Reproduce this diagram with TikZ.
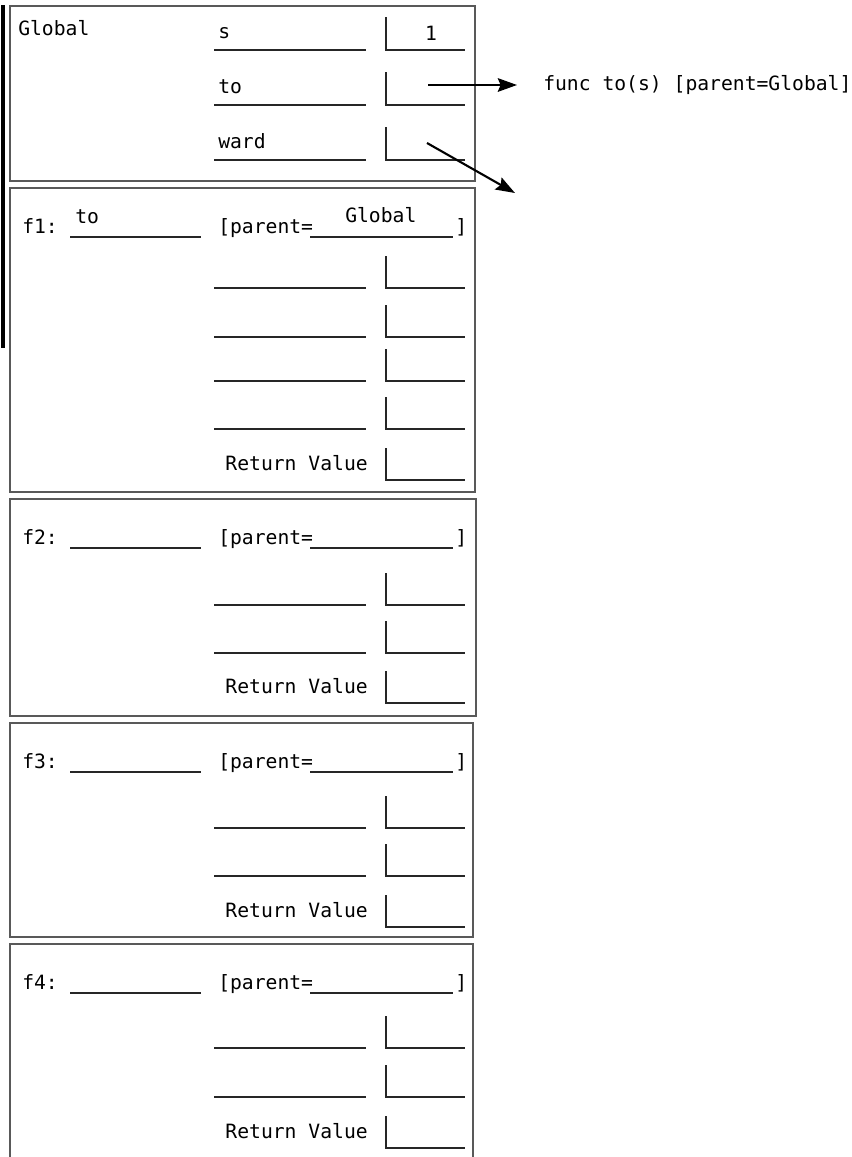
\documentclass[tikz,border=0pt]{standalone}
\usepackage{fontspec}
\setmonofont{DejaVu Sans Mono}
\usetikzlibrary{arrows.meta}

\begin{document}
\begin{tikzpicture}[x=0.025cm, y=-0.025cm,
  every node/.style={font=\ttfamily\fontsize{14}{16}\selectfont, inner sep=0pt},
  frame/.style={draw=black!65, line width=0.9pt},
  blank/.style={black!85, line width=1pt},
  valbox/.style={black!85, line width=1pt},
  ptr/.style={line width=1.5pt, -{Stealth[length=4.8mm, width=3.4mm, inset=0.7mm]}}]
  \useasboundingbox (0,0) rectangle (852,1157);
  \draw[line width=2.2pt] (3,5) -- (3,348);
  % Global frame
  \draw[frame] (10,6) rectangle (475,181);
  \node[anchor=base west] (glabel) at (18,35) {Global};
  \foreach \n/\y in {s/50, to/105, ward/160} {
    \draw[blank] (214,\y) -- (366,\y);
    \node[anchor=base west] (g\n) at (218,\y-12) {\n};
    \draw[valbox] (386,\y-33) |- (465,\y);
  }
  \node[anchor=base] (sval) at (431,40) {1};
  \coordinate (toval) at (428,85);
  \coordinate (wardval) at (427,143);
  \coordinate (wardend) at (515,193);
  \node[anchor=west] (functo) at (543,85) {func to(s) [parent=Global]};
  \draw[ptr, shorten >=0.65cm] (toval) -- (functo.west);
  \draw[ptr] (wardval) -- (wardend);
  % Call frames
  \foreach \f/\ty/\by/\rx in {1/188/492/475, 2/499/716/476, 3/723/937/473, 4/944/1162/473} {
    \draw[frame] (10,\ty) rectangle (\rx,\by);
    \node[anchor=base west] (f\f) at (22,\ty+45) {f\f:};
    \draw[blank] (70,\ty+49) -- (201,\ty+49);
    \node[anchor=base west] (par\f) at (218,\ty+45) {[parent=};
    \draw[blank] (310,\ty+49) -- (453,\ty+49);
    \node[anchor=base west] (br\f) at (455,\ty+45) {]};
  }
  \node[anchor=base west] (f1name) at (75,223) {to};
  \node[anchor=base west] (f1par) at (345,222) {Global};
  % Variable rows
  \foreach \y in {288,337,381,429,605,653,828,876,1048,1097} {
    \draw[blank] (214,\y) -- (366,\y);
    \draw[valbox] (386,\y-32) |- (465,\y);
  }
  \foreach \f/\y in {1/480, 2/703, 3/927, 4/1148} {
    \node[anchor=base east] (ret\f) at (368,\y-10) {Return Value};
    \draw[valbox] (386,\y-32) |- (465,\y);
  }
\end{tikzpicture}
\end{document}
